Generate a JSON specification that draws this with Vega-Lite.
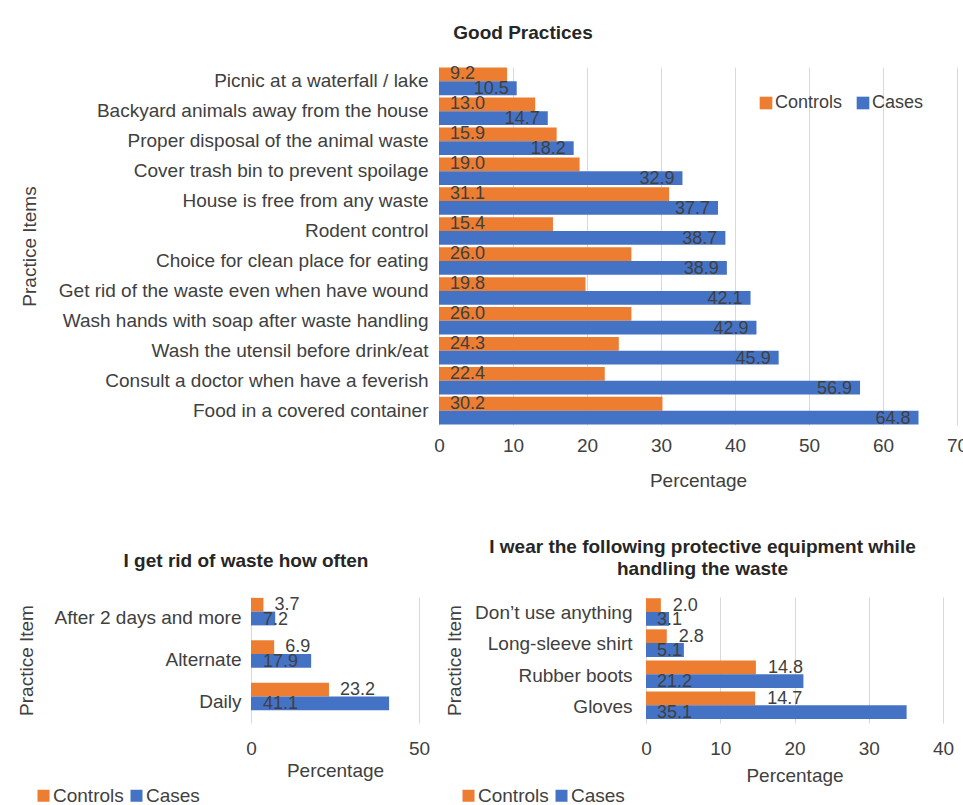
{
  "$schema": "https://vega.github.io/schema/vega-lite/v6.json",
  "padding": {"left": 0, "top": 24, "right": 0, "bottom": 0},
  "spacing": 48,
  "resolve": {"scale": {"color": "independent"}, "legend": {"color": "independent"}},
  "config": {
    "font": "Liberation Sans",
    "view": {"stroke": null},
    "axis": {"labelColor": "#404040", "titleColor": "#404040", "labelFontSize": 19, "titleFontSize": 19, "titleFontWeight": "normal", "ticks": false, "domain": false, "gridColor": "#d9d9d9", "labelLimit": 500, "labelFlush": false},
    "title": {"color": "#262626", "fontSize": 19, "fontWeight": "bold"},
    "legend": {"labelFontSize": 18, "labelColor": "#404040", "symbolType": "square", "symbolSize": 160, "symbolStrokeWidth": 0, "direction": "horizontal", "orient": "none", "title": null, "labelOffset": 0, "columnPadding": 11}
  },
  "datasets": {
    "blank": [{"k": 1}],
    "good": [
      {"item": "Picnic at a waterfall / lake", "series": "Controls", "pct": 9.2},
      {"item": "Picnic at a waterfall / lake", "series": "Cases", "pct": 10.5},
      {"item": "Backyard animals away from the house", "series": "Controls", "pct": 13.0},
      {"item": "Backyard animals away from the house", "series": "Cases", "pct": 14.7},
      {"item": "Proper disposal of the animal waste", "series": "Controls", "pct": 15.9},
      {"item": "Proper disposal of the animal waste", "series": "Cases", "pct": 18.2},
      {"item": "Cover trash bin to prevent spoilage", "series": "Controls", "pct": 19.0},
      {"item": "Cover trash bin to prevent spoilage", "series": "Cases", "pct": 32.9},
      {"item": "House is free from any waste", "series": "Controls", "pct": 31.1},
      {"item": "House is free from any waste", "series": "Cases", "pct": 37.7},
      {"item": "Rodent control", "series": "Controls", "pct": 15.4},
      {"item": "Rodent control", "series": "Cases", "pct": 38.7},
      {"item": "Choice for clean place for eating", "series": "Controls", "pct": 26.0},
      {"item": "Choice for clean place for eating", "series": "Cases", "pct": 38.9},
      {"item": "Get rid of the waste even when have wound", "series": "Controls", "pct": 19.8},
      {"item": "Get rid of the waste even when have wound", "series": "Cases", "pct": 42.1},
      {"item": "Wash hands with soap after waste handling", "series": "Controls", "pct": 26.0},
      {"item": "Wash hands with soap after waste handling", "series": "Cases", "pct": 42.9},
      {"item": "Wash the utensil before drink/eat", "series": "Controls", "pct": 24.3},
      {"item": "Wash the utensil before drink/eat", "series": "Cases", "pct": 45.9},
      {"item": "Consult a doctor  when have a feverish", "series": "Controls", "pct": 22.4},
      {"item": "Consult a doctor  when have a feverish", "series": "Cases", "pct": 56.9},
      {"item": "Food in a covered container", "series": "Controls", "pct": 30.2},
      {"item": "Food in a covered container", "series": "Cases", "pct": 64.8}
    ],
    "freq": [
      {"item": "After 2 days and more", "series": "Controls", "pct": 3.7},
      {"item": "After 2 days and more", "series": "Cases", "pct": 7.2},
      {"item": "Alternate", "series": "Controls", "pct": 6.9},
      {"item": "Alternate", "series": "Cases", "pct": 17.9},
      {"item": "Daily", "series": "Controls", "pct": 23.2},
      {"item": "Daily", "series": "Cases", "pct": 41.1}
    ],
    "ppe": [
      {"item": "Don’t use anything", "series": "Controls", "pct": 2.0},
      {"item": "Don’t use anything", "series": "Cases", "pct": 3.1},
      {"item": "Long-sleeve shirt", "series": "Controls", "pct": 2.8},
      {"item": "Long-sleeve shirt", "series": "Cases", "pct": 5.1},
      {"item": "Rubber boots", "series": "Controls", "pct": 14.8},
      {"item": "Rubber boots", "series": "Cases", "pct": 21.2},
      {"item": "Gloves", "series": "Controls", "pct": 14.7},
      {"item": "Gloves", "series": "Cases", "pct": 35.1}
    ]
  },
  "vconcat": [
    {
      "spacing": 19,
      "resolve": {"scale": {"color": "independent"}, "legend": {"color": "independent"}},
      "hconcat": [
        {"width": 1, "height": 1, "data": {"name": "blank"}, "mark": {"type": "point", "size": 0, "opacity": 0}, "encoding": {}},
        {
          "title": {"text": "Good Practices", "offset": 22, "dx": -175},
          "width": 518,
          "height": 358,
          "data": {"name": "good"},
          "encoding": {
            "y": {"field": "item", "type": "nominal", "sort": null, "scale": {"paddingInner": 0.08, "paddingOuter": 0.02},
              "axis": {"title": "Practice Items", "labelPadding": 11, "titleX": -400}},
            "yOffset": {"field": "series", "type": "nominal", "sort": ["Controls", "Cases"]}
          },
          "layer": [
            {
              "mark": {"type": "bar"},
              "encoding": {
                "x": {"field": "pct", "type": "quantitative", "scale": {"domain": [0, 70]},
                  "axis": {"title": "Percentage", "values": [0, 10, 20, 30, 40, 50, 60, 70], "grid": true, "labelPadding": 11, "titlePadding": 16}},
                "color": {"field": "series", "type": "nominal", "scale": {"domain": ["Controls", "Cases"], "range": ["#ED7D31", "#4472C4"]},
                  "legend": {"legendX": 318, "legendY": 27}}
              }
            },
            {
              "transform": [{"filter": "datum.series === 'Controls'"}],
              "mark": {"type": "text", "align": "left", "dx": 11, "fontSize": 18, "color": "#404040", "baseline": "middle"},
              "encoding": {"x": {"datum": 0, "type": "quantitative"}, "text": {"field": "pct", "format": ".1f"}}
            },
            {
              "transform": [{"filter": "datum.series === 'Cases'"}],
              "mark": {"type": "text", "align": "right", "dx": -8, "fontSize": 18, "color": "#404040", "baseline": "middle", "dy": 1},
              "encoding": {"x": {"field": "pct", "type": "quantitative"}, "text": {"field": "pct", "format": ".1f"}}
            }
          ]
        }
      ]
    },
    {
      "spacing": 15,
      "resolve": {"scale": {"color": "independent"}, "legend": {"color": "independent"}},
      "hconcat": [
        {"width": 2, "height": 1, "data": {"name": "blank"}, "mark": {"type": "point", "size": 0, "opacity": 0}, "encoding": {}},
        {
          "title": {"text": "I get rid of waste how often", "offset": 25, "dx": -89},
          "width": 168,
          "height": 126,
          "data": {"name": "freq"},
          "encoding": {
            "y": {"field": "item", "type": "nominal", "sort": null, "scale": {"paddingInner": 0.07, "paddingOuter": 0.02},
              "axis": {"title": "Practice Item", "labelPadding": 10, "titleX": -215}},
            "yOffset": {"field": "series", "type": "nominal", "sort": ["Controls", "Cases"]}
          },
          "layer": [
            {
              "mark": {"type": "bar"},
              "encoding": {
                "x": {"field": "pct", "type": "quantitative", "scale": {"domain": [0, 50]},
                  "axis": {"title": "Percentage", "values": [0, 50], "grid": true, "labelPadding": 16, "titlePadding": 3}},
                "color": {"field": "series", "type": "nominal", "scale": {"domain": ["Controls", "Cases"], "range": ["#ED7D31", "#4472C4"]},
                  "legend": {"legendX": -217, "legendY": 189, "columnPadding": 3, "symbolSize": 144, "labelFontSize": 19}}
              }
            },
            {
              "transform": [{"filter": "datum.series === 'Controls'"}],
              "mark": {"type": "text", "align": "left", "dx": 11, "fontSize": 18, "color": "#404040", "baseline": "middle"},
              "encoding": {"x": {"field": "pct", "type": "quantitative"}, "text": {"field": "pct", "format": ".1f"}}
            },
            {
              "transform": [{"filter": "datum.series === 'Cases'"}],
              "mark": {"type": "text", "align": "left", "dx": 12, "fontSize": 18, "color": "#404040", "baseline": "middle", "dy": 1},
              "encoding": {"x": {"datum": 0, "type": "quantitative"}, "text": {"field": "pct", "format": ".1f"}}
            }
          ]
        },
        {
          "title": {"text": ["I wear the following protective equipment while", "handling the waste"], "offset": 18, "lineHeight": 22, "dx": -92},
          "width": 297,
          "height": 126,
          "data": {"name": "ppe"},
          "encoding": {
            "y": {"field": "item", "type": "nominal", "sort": null, "scale": {"paddingInner": 0.03, "paddingOuter": 0.04},
              "axis": {"title": "Practice Item", "labelPadding": 14, "titleX": -182}},
            "yOffset": {"field": "series", "type": "nominal", "sort": ["Controls", "Cases"]}
          },
          "layer": [
            {
              "mark": {"type": "bar"},
              "encoding": {
                "x": {"field": "pct", "type": "quantitative", "scale": {"domain": [0, 40]},
                  "axis": {"title": "Percentage", "values": [0, 10, 20, 30, 40], "grid": true, "labelPadding": 16, "titlePadding": 8}},
                "color": {"field": "series", "type": "nominal", "scale": {"domain": ["Controls", "Cases"], "range": ["#ED7D31", "#4472C4"]},
                  "legend": {"legendX": -187, "legendY": 189, "columnPadding": 3, "symbolSize": 144, "labelFontSize": 19}}
              }
            },
            {
              "transform": [{"filter": "datum.series === 'Controls'"}],
              "mark": {"type": "text", "align": "left", "dx": 12, "fontSize": 18, "color": "#404040", "baseline": "middle", "dy": 1},
              "encoding": {"x": {"field": "pct", "type": "quantitative"}, "text": {"field": "pct", "format": ".1f"}}
            },
            {
              "transform": [{"filter": "datum.series === 'Cases'"}],
              "mark": {"type": "text", "align": "left", "dx": 11, "fontSize": 18, "color": "#404040", "baseline": "middle", "dy": 1},
              "encoding": {"x": {"datum": 0, "type": "quantitative"}, "text": {"field": "pct", "format": ".1f"}}
            }
          ]
        }
      ]
    }
  ]
}
